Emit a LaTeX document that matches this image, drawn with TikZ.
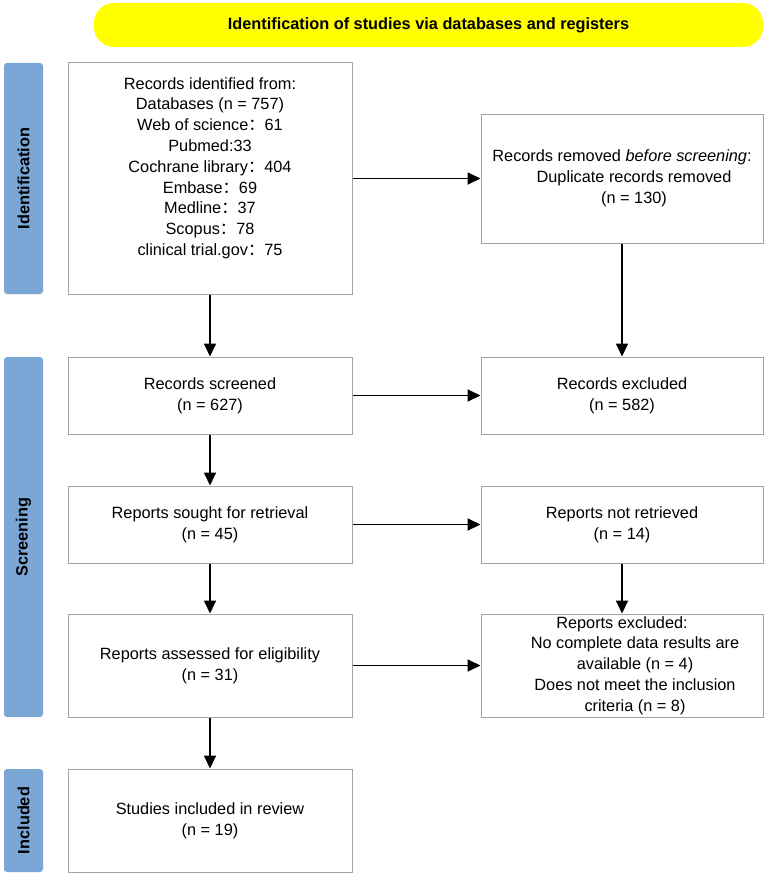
\documentclass[tikz,border=0pt]{standalone}
\usepackage{fontspec}
\setmainfont{Liberation Sans}
\newfontfamily\cjk{Noto Sans CJK SC}
\usetikzlibrary{arrows.meta,calc}
\definecolor{ink}{HTML}{000000}
\definecolor{boxborder}{HTML}{A3A3A3}
\definecolor{bandfill}{HTML}{FFFF00}
\definecolor{stagefill}{HTML}{7BA7D7}
\newcommand{\wcolon}{{\cjk ：}}
\newcommand{\flowfont}{\fontsize{16.3}{20.8}\selectfont}

\begin{document}
\begin{tikzpicture}[
  x=1pt, y=-1pt,
  font=\flowfont,
  >={Triangle[length=13pt, width=12pt]},
  record/.style={draw=boxborder, line width=1pt, fill=white, text=ink, align=center,
    inner sep=0pt, anchor=center},
  recordtext/.style={text=ink, align=center, inner sep=0pt, anchor=center},
  band/.style={fill=bandfill, rounded corners=20pt, text=ink, font=\flowfont\bfseries,
    minimum width=669pt, minimum height=44pt, inner sep=0pt, anchor=center},
  stage/.style={fill=stagefill, rounded corners=3pt, text=ink, font=\flowfont\bfseries,
    rotate=90, minimum height=39pt, inner sep=0pt, anchor=center},
  flow/.style={->, draw=ink, line width=1.8pt}
]
\useasboundingbox (0,0) rectangle (767,875);

\node[band] (title) at (428.5,25) {Identification of studies via databases and registers};

\node[stage, minimum width=231pt] (sid) at (23.5,178.5) {Identification};
\node[stage, minimum width=360pt] (sscr) at (23.5,537) {Screening};
\node[stage, minimum width=103pt] (sinc) at (23.5,820.5) {Included};

% left column
\node[record, minimum width=284pt, minimum height=231pt] (ident) at (210,178.5) {};
\node[recordtext] (identtext) at (210,168) {Records identified from:\\
  Databases (n = 757)\\ Web of science\wcolon 61\\ Pubmed:33\\
  Cochrane library\wcolon 404\\ Embase\wcolon 69\\ Medline\wcolon 37\\
  Scopus\wcolon 78\\ clinical trial.gov\wcolon 75};
\node[record, minimum width=284pt, minimum height=77pt] (screened) at (210,395.5) {Records screened\\ (n = 627)};
\node[record, minimum width=284pt, minimum height=77pt] (sought) at (210,524.5) {Reports sought for retrieval\\ (n = 45)};
\node[record, minimum width=284pt, minimum height=103pt] (assessed) at (210,665.5) {Reports assessed for eligibility\\ (n = 31)};
\node[record, minimum width=284pt, minimum height=103pt] (included) at (210,820.5) {Studies included in review\\ (n = 19)};

% right column
\node[record, minimum width=282pt, minimum height=129pt] (removed) at (622,178.5) {Records removed \emph{before screening}:\\
  \hspace*{24pt}Duplicate records removed\\ \hspace*{24pt}(n = 130)};
\node[record, minimum width=282pt, minimum height=77pt] (excluded) at (622,395.5) {Records excluded\\ (n = 582)};
\node[record, minimum width=282pt, minimum height=77pt] (notret) at (622,524.5) {Reports not retrieved\\ (n = 14)};
\node[record, minimum width=282pt, minimum height=103pt] (repexcl) at (622,665.5) {Reports excluded:\\
  \hspace*{26pt}No complete data results are\\ \hspace*{26pt}available (n = 4)\\
  \hspace*{26pt}Does not meet the inclusion\\ \hspace*{26pt}criteria (n = 8)};

\draw[flow] (ident.south) -- (screened.north);
\draw[flow] (screened.south) -- (sought.north);
\draw[flow] (sought.south) -- (assessed.north);
\draw[flow] (assessed.south) -- (included.north);

\draw[flow] (ident.east) -- (removed.west);
\draw[flow] (screened.east) -- (excluded.west);
\draw[flow] (sought.east) -- (notret.west);
\draw[flow] (assessed.east) -- (repexcl.west);

\draw[flow] (removed.south) -- (excluded.north);
\draw[flow] (notret.south) -- (repexcl.north);
\end{tikzpicture}
\end{document}
